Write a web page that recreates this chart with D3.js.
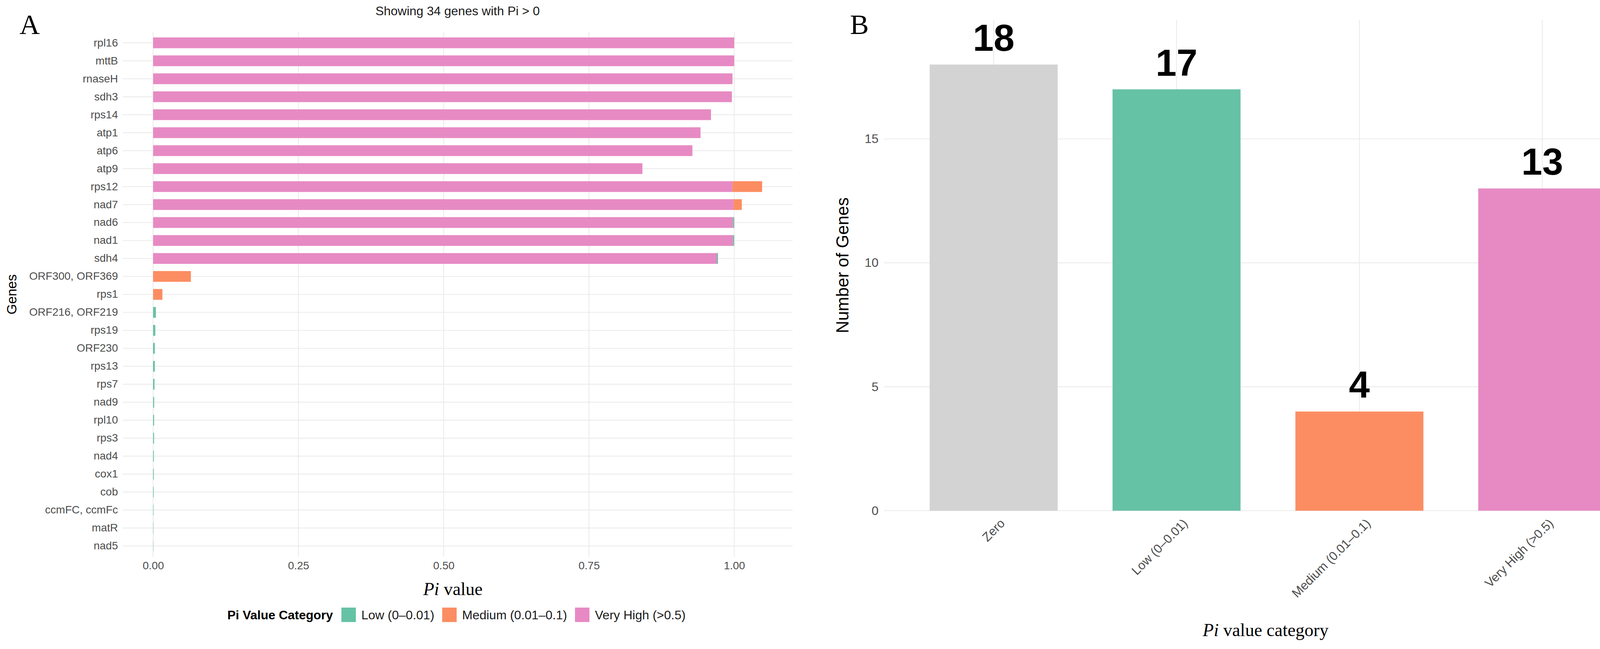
<!DOCTYPE html>
<html>
<head>
<meta charset="utf-8">
<script src="https://cdn.jsdelivr.net/npm/d3@7"></script>
<style>
  html, body { margin: 0; padding: 0; background: #ffffff; }
  svg { display: block; }
</style>
</head>
<body>
<svg id="chart" width="4249" height="1661"></svg>
<script>
// ---------------- Panel A data ----------------
const genes = ["rpl16","mttB","rnaseH","sdh3","rps14","atp1","atp6","atp9","rps12","nad7",
  "nad6","nad1","sdh4","ORF300, ORF369","rps1","ORF216, ORF219","rps19","ORF230","rps13",
  "rps7","nad9","rpl10","rps3","nad4","cox1","cob","ccmFC, ccmFc","matR","nad5"];
const piVeryHigh = [1.000,1.000,0.997,0.996,0.960,0.942,0.928,0.842,0.997,0.999,
  0.998,0.998,0.970,0,0,0,0,0,0,
  0,0,0,0,0,0,0,0,0,0];
const piMedium = [0,0,0,0,0,0,0,0,0.051,0.014,
  0,0,0,0.065,0.016,0,0,0,0,
  0,0,0,0,0,0,0,0,0,0];
const piLow = [0,0,0,0,0,0,0,0,0,0,
  0.002,0.002,0.002,0,0,0.0048,0.0038,0.003,0.003,
  0.0024,0.0018,0.0017,0.0016,0.0013,0.0012,0.0010,0.0007,0.0005,0.0004];
const seriesKeys = ["Very High (>0.5)","Medium (0.01–0.1)","Low (0–0.01)"];
const legendOrder = ["Low (0–0.01)","Medium (0.01–0.1)","Very High (>0.5)"];
const xTicksA = [0, 0.25, 0.5, 0.75, 1.0];

// ---------------- Panel B data ----------------
const categoriesB = ["Zero","Low (0–0.01)","Medium (0.01–0.1)","Very High (>0.5)"];
const countsB = [18, 17, 4, 13];
const yTicksB = [0, 5, 10, 15];

const colorMap = {
  "Zero": "#D3D3D3",
  "Low (0–0.01)": "#66C2A5",
  "Medium (0.01–0.1)": "#FC8D62",
  "Very High (>0.5)": "#E78AC3"
};

const SANS = "'Liberation Sans', Arial, Helvetica, sans-serif";
const SERIF = "'Liberation Serif', 'Times New Roman', serif";
const GRID = "#EBEBEB";
const AXTXT = "#4D4D4D";

const svg = d3.select("#chart");
svg.append("rect").attr("width", 4249).attr("height", 1661).attr("fill", "#fff");

// ======================= PANEL A =======================
const A = { left: 314, right: 2029, top: 82, bottom: 1425 };
const rows = genes.map((g, i) => ({
  gene: g,
  "Very High (>0.5)": piVeryHigh[i],
  "Medium (0.01–0.1)": piMedium[i],
  "Low (0–0.01)": piLow[i]
}));
const stacked = d3.stack().keys(seriesKeys)(rows);
const maxA = d3.max(rows, r => r["Very High (>0.5)"] + r["Medium (0.01–0.1)"] + r["Low (0–0.01)"]);
const xA = d3.scaleLinear().domain([-0.05 * maxA, 1.05 * maxA]).range([A.left, A.right]);
const yA = d3.scaleBand().domain(genes).range([A.top, A.bottom]).paddingInner(0.4).paddingOuter(0.3);

const gA = svg.append("g");
// grid
gA.append("g").selectAll("line").data(genes).join("line")
  .attr("x1", A.left).attr("x2", A.right)
  .attr("y1", d => yA(d) + yA.bandwidth() / 2).attr("y2", d => yA(d) + yA.bandwidth() / 2)
  .attr("stroke", GRID).attr("stroke-width", 2.2);
gA.append("g").selectAll("line").data(xTicksA).join("line")
  .attr("x1", d => xA(d)).attr("x2", d => xA(d))
  .attr("y1", A.top).attr("y2", A.bottom)
  .attr("stroke", GRID).attr("stroke-width", 2.2);

// bars
gA.append("g").selectAll("g").data(stacked).join("g")
  .attr("fill", d => colorMap[d.key])
  .selectAll("rect").data(d => d).join("rect")
  .attr("x", d => xA(d[0]))
  .attr("width", d => Math.max(0, xA(d[1]) - xA(d[0])))
  .attr("y", d => yA(d.data.gene))
  .attr("height", yA.bandwidth());

// y axis labels
const yAxisA = d3.axisLeft(yA).tickSize(0).tickPadding(12);
const yAxG = gA.append("g").attr("transform", `translate(${A.left},0)`).call(yAxisA);
yAxG.select(".domain").remove();
yAxG.selectAll("text").attr("font-family", SANS).attr("font-size", 28).attr("fill", AXTXT);

// x axis labels
const xAxisA = d3.axisBottom(xA).tickValues(xTicksA).tickFormat(d3.format(".2f")).tickSize(0).tickPadding(12);
const xAxG = gA.append("g").attr("transform", `translate(0,${A.bottom})`).call(xAxisA);
xAxG.select(".domain").remove();
xAxG.selectAll("text").attr("font-family", SANS).attr("font-size", 28).attr("fill", AXTXT);

// subtitle
const midA = (A.left + A.right) / 2;
svg.append("text").attr("x", midA).attr("y", 39).attr("text-anchor", "middle")
  .attr("font-family", SANS).attr("font-size", 32).attr("fill", "#1a1a1a")
  .text("Showing 34 genes with Pi > 0");

// axis titles
const xtA = svg.append("text").attr("x", midA - 12).attr("y", 1523).attr("text-anchor", "middle")
  .attr("font-family", SERIF).attr("font-size", 46).attr("fill", "#000");
xtA.append("tspan").attr("font-style", "italic").text("Pi");
xtA.append("tspan").text(" value");

svg.append("text").attr("transform", `translate(42,${(A.top + A.bottom) / 2}) rotate(-90)`)
  .attr("text-anchor", "middle").attr("font-family", SANS).attr("font-size", 35).attr("fill", "#000")
  .text("Genes");

// panel letter
svg.append("text").attr("x", 50).attr("y", 87).attr("font-family", SERIF).attr("font-size", 72)
  .attr("fill", "#000").text("A");

// legend
const legG = svg.append("g");
legG.append("text").attr("x", 582).attr("y", 1585).attr("font-family", SANS).attr("font-size", 32)
  .attr("font-weight", "bold").attr("fill", "#000").text("Pi Value Category");
const legX = [874, 1132, 1472];
legendOrder.forEach((k, i) => {
  legG.append("rect").attr("x", legX[i]).attr("y", 1555).attr("width", 37).attr("height", 37)
    .attr("fill", colorMap[k]);
  legG.append("text").attr("x", legX[i] + 51).attr("y", 1585).attr("font-family", SANS)
    .attr("font-size", 32).attr("fill", "#1a1a1a").text(k);
});

// ======================= PANEL B =======================
const B = { left: 2263, right: 4229, top: 51, bottom: 1307 };
const xB = d3.scaleBand().domain(categoriesB).range([B.left, B.right]).paddingInner(0.3).paddingOuter(0.25);
const yB = d3.scaleLinear().domain([0, d3.max(countsB) * 1.1]).range([B.bottom, B.top]);
const gB = svg.append("g");

gB.append("g").selectAll("line").data(yTicksB).join("line")
  .attr("x1", B.left).attr("x2", B.right)
  .attr("y1", d => yB(d)).attr("y2", d => yB(d))
  .attr("stroke", GRID).attr("stroke-width", 2.2);
gB.append("g").selectAll("line").data(categoriesB).join("line")
  .attr("x1", d => xB(d) + xB.bandwidth() / 2).attr("x2", d => xB(d) + xB.bandwidth() / 2)
  .attr("y1", B.top).attr("y2", B.bottom)
  .attr("stroke", GRID).attr("stroke-width", 2.2);

const dataB = categoriesB.map((c, i) => ({ cat: c, n: countsB[i] }));
gB.append("g").selectAll("rect").data(dataB).join("rect")
  .attr("x", d => xB(d.cat)).attr("width", xB.bandwidth())
  .attr("y", d => yB(d.n)).attr("height", d => yB(0) - yB(d.n))
  .attr("fill", d => colorMap[d.cat]);

gB.append("g").selectAll("text").data(dataB).join("text")
  .attr("x", d => xB(d.cat) + xB.bandwidth() / 2).attr("y", d => yB(d.n) - 35)
  .attr("text-anchor", "middle").attr("font-family", SANS).attr("font-size", 96)
  .attr("font-weight", "bold").attr("fill", "#000").text(d => d.n);

// y axis
const yAxisB = d3.axisLeft(yB).tickValues(yTicksB).tickFormat(d3.format("d")).tickSize(0).tickPadding(14);
const yBG = gB.append("g").attr("transform", `translate(${B.left},0)`).call(yAxisB);
yBG.select(".domain").remove();
yBG.selectAll("text").attr("font-family", SANS).attr("font-size", 32).attr("fill", AXTXT);

// x axis (rotated)
const xAxisB = d3.axisBottom(xB).tickSize(0).tickPadding(0);
const xBG = gB.append("g").attr("transform", `translate(0,${B.bottom})`).call(xAxisB);
xBG.select(".domain").remove();
xBG.selectAll("text")
  .attr("font-family", SANS).attr("font-size", 32).attr("fill", AXTXT)
  .attr("text-anchor", "end").attr("dy", null).attr("y", null)
  .attr("dominant-baseline", "hanging")
  .attr("transform", "translate(14,18) rotate(-45)");

// titles
const midB = (B.left + B.right) / 2;
const xtB = svg.append("text").attr("x", midB - 6).attr("y", 1628).attr("text-anchor", "middle")
  .attr("font-family", SERIF).attr("font-size", 46).attr("fill", "#000");
xtB.append("tspan").attr("font-style", "italic").text("Pi");
xtB.append("tspan").text(" value category");

svg.append("text").attr("transform", `translate(2172,${(B.top + B.bottom) / 2}) rotate(-90)`)
  .attr("text-anchor", "middle").attr("font-family", SANS).attr("font-size", 44).attr("fill", "#000")
  .text("Number of Genes");

svg.append("text").attr("x", 2176).attr("y", 87).attr("font-family", SERIF).attr("font-size", 72)
  .attr("fill", "#000").text("B");
</script>
</body>
</html>
